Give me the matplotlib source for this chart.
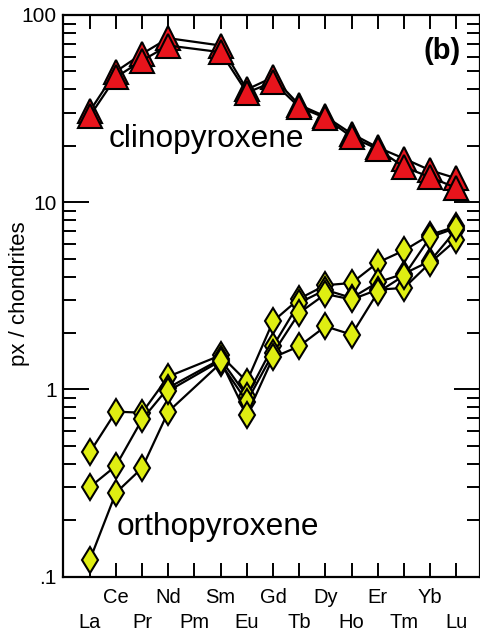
import numpy as np
import matplotlib
matplotlib.use("Agg")
import matplotlib.pyplot as plt
from matplotlib.ticker import FixedLocator, NullFormatter

plt.rcParams['font.family'] = ['Liberation Sans', 'DejaVu Sans']

elements = ["La", "Ce", "Pr", "Nd", "Pm", "Sm", "Eu", "Gd", "Tb", "Dy", "Ho", "Er", "Tm", "Yb", "Lu"]
nan = np.nan

# clinopyroxene (no Pm)
cpx_a = [30.6, 49.9, 62.0, 75.2, nan, 68.7, 40.0, 46.5, 33.1, 28.7, 23.2, 19.6, 17.1, 14.8, 13.4]
cpx_b = [28.8, 46.5, 57.1, 68.7, nan, 63.3, 38.5, 43.8, 32.2, 28.2, 22.3, 19.2, 15.4, 13.6, 11.9]

# orthopyroxene (no Pm)
opx_a = [0.46, 0.76, 0.75, 1.17, nan, 1.52, 1.10, 2.31, 3.05, 3.60, 3.70, 4.76, 5.52, 6.70, 7.42]
opx_b = [0.30, 0.39, 0.69, 1.02, nan, 1.45, 0.92, 1.70, 2.90, 3.40, 3.08, 3.73, 4.15, 4.85, 7.13]
opx_c = [0.122, 0.28, 0.38, 0.76, nan, 1.38, 0.86, 1.56, 2.56, 3.23, 3.02, 3.41, 3.48, 4.75, 6.30]
opx_d = [nan, nan, nan, 0.98, nan, 1.42, 0.73, 1.48, 1.70, 2.17, 1.96, 3.30, 4.05, 6.50, 7.30]

ytick_vals = [0.1, 1, 10, 100]
ytick_labels = [".1", "1", "10", "100"]

x = np.arange(1, len(elements) + 1)

fig = plt.figure(figsize=(4.81, 6.34), dpi=100)
ax = fig.add_axes([63.5/481, (634-576.5)/634, (480-63.5)/481, (576.5-15)/634])

red = "#e8141c"
yellow = "#dfee12"

def plot_series(vals, marker, color, ms):
    v = np.array(vals, dtype=float)
    m = ~np.isnan(v)
    ax.plot(x[m], v[m], color="black", lw=1.6, marker=marker, ms=ms,
            mfc=color, mec="black", mew=1.5, zorder=3)

for s in [opx_a, opx_b, opx_c, opx_d]:
    plot_series(s, 'd', yellow, 13.7)
for s in [cpx_a, cpx_b]:
    plot_series(s, '^', red, 17)

ax.set_yscale('log')
ax.set_ylim(0.1, 100)
ax.set_xlim(0, 15.9)

ax.yaxis.set_major_locator(FixedLocator(ytick_vals))
ax.set_yticklabels(ytick_labels)
minors = [m * 10.0**e for e in range(-1, 2) for m in range(2, 10)]
ax.yaxis.set_minor_locator(FixedLocator(minors))
ax.yaxis.set_minor_formatter(NullFormatter())

# x ticks: upper row as major, lower row as minor
upper_idx = [i for i in range(len(elements)) if i % 2 == 1]
lower_idx = [i for i in range(len(elements)) if i % 2 == 0]
ax.set_xticks([x[i] for i in upper_idx])
ax.set_xticklabels([elements[i] for i in upper_idx])
ax.set_xticks([x[i] for i in lower_idx], minor=True)
ax.set_xticklabels([elements[i] for i in lower_idx], minor=True)

ax.tick_params(axis='x', which='both', direction='in', top=True, bottom=True,
               length=10, width=1.4, labelsize=14.5)
ax.tick_params(axis='x', which='major', pad=8)
ax.tick_params(axis='x', which='minor', pad=26)
ax.tick_params(axis='y', which='major', direction='in', left=True, right=True,
               length=19, width=1.4, labelsize=15, pad=5)
ax.tick_params(axis='y', which='minor', direction='in', left=True, right=True,
               length=9.5, width=1.4)

for sp in ax.spines.values():
    sp.set_linewidth(1.6)

ax.text(1.74, 19.8, "clinopyroxene", fontsize=22.8, ha='left', va='baseline')
ax.text(2.01, 0.1676, "orthopyroxene", fontsize=22.8, ha='left', va='baseline')
ax.text(14.46, 64.3, "(b)", fontsize=21, fontweight='bold', ha='center', va='center')

fig.text(20/481, 1 - 293.5/634, "px / chondrites", rotation=90, fontsize=16,
         ha='center', va='center')

fig.savefig("out.png", dpi=100)
